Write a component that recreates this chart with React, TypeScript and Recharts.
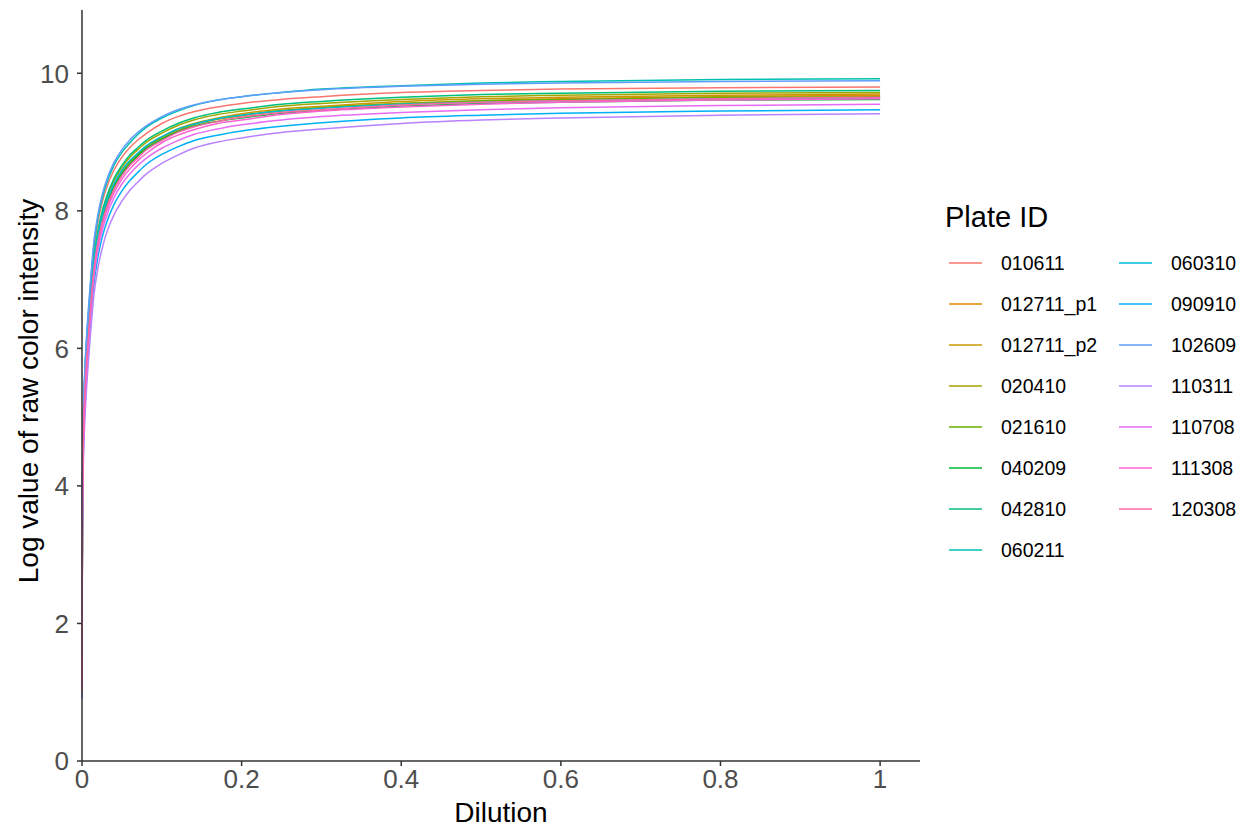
import React from 'react';
import { LineChart, Line, XAxis, YAxis, Legend } from 'recharts';

// dilution grid the curves were read at
const dilution = [0, 0.0005, 0.001, 0.002, 0.004, 0.007, 0.01, 0.015, 0.02, 0.025, 0.03, 0.04, 0.05, 0.06,
  0.07, 0.08, 0.1, 0.12, 0.14, 0.17, 0.2, 0.25, 0.3, 0.4, 0.5, 0.6, 0.8, 1];

// log colour intensity per plate
const p010611 = [1.0, 3.85, 4.49, 5.09, 5.69, 6.29, 6.77, 7.45, 7.84, 8.11, 8.31, 8.59, 8.78, 8.92, 9.03, 9.12, 9.27, 9.37, 9.44, 9.51, 9.56, 9.62, 9.66, 9.72, 9.75, 9.77, 9.79, 9.8];
const p012711_p1 = [1.0, 3.64, 4.26, 4.85, 5.44, 6.03, 6.51, 7.18, 7.57, 7.84, 8.04, 8.33, 8.53, 8.68, 8.8, 8.9, 9.05, 9.16, 9.25, 9.33, 9.38, 9.45, 9.5, 9.56, 9.6, 9.63, 9.66, 9.68];
const p012711_p2 = [1.0, 3.66, 4.29, 4.88, 5.47, 6.06, 6.54, 7.21, 7.6, 7.87, 8.07, 8.36, 8.56, 8.71, 8.82, 8.93, 9.07, 9.19, 9.27, 9.35, 9.41, 9.48, 9.52, 9.59, 9.63, 9.65, 9.68, 9.7];
const p020410 = [1.0, 3.72, 4.36, 4.95, 5.54, 6.14, 6.61, 7.29, 7.68, 7.95, 8.15, 8.44, 8.63, 8.78, 8.89, 8.99, 9.13, 9.24, 9.32, 9.4, 9.45, 9.52, 9.56, 9.62, 9.66, 9.68, 9.71, 9.72];
const p021610 = [1.0, 3.66, 4.3, 4.89, 5.48, 6.08, 6.55, 7.23, 7.62, 7.89, 8.09, 8.38, 8.57, 8.72, 8.83, 8.93, 9.07, 9.18, 9.26, 9.34, 9.39, 9.46, 9.5, 9.56, 9.6, 9.62, 9.65, 9.66];
const p040209 = [1.0, 3.63, 4.26, 4.86, 5.45, 6.05, 6.52, 7.2, 7.59, 7.86, 8.06, 8.35, 8.54, 8.68, 8.8, 8.9, 9.04, 9.15, 9.23, 9.3, 9.35, 9.42, 9.46, 9.52, 9.56, 9.58, 9.61, 9.62];
const p042810 = [1.0, 3.75, 4.39, 4.98, 5.57, 6.17, 6.64, 7.32, 7.71, 7.98, 8.18, 8.47, 8.66, 8.81, 8.92, 9.02, 9.16, 9.27, 9.35, 9.43, 9.48, 9.55, 9.59, 9.65, 9.69, 9.71, 9.74, 9.75];
const p060211 = [1.1, 3.93, 4.57, 5.16, 5.76, 6.36, 6.83, 7.51, 7.9, 8.17, 8.37, 8.66, 8.85, 8.99, 9.11, 9.21, 9.35, 9.45, 9.53, 9.61, 9.66, 9.72, 9.77, 9.82, 9.86, 9.88, 9.91, 9.92];
const p060310 = [1.0, 3.66, 4.31, 4.9, 5.5, 6.09, 6.57, 7.25, 7.64, 7.91, 8.11, 8.39, 8.59, 8.73, 8.84, 8.94, 9.08, 9.19, 9.26, 9.34, 9.39, 9.45, 9.49, 9.55, 9.58, 9.6, 9.63, 9.64];
const p090910 = [0.9, 3.41, 4.03, 4.62, 5.2, 5.79, 6.27, 6.94, 7.33, 7.6, 7.8, 8.09, 8.29, 8.44, 8.56, 8.67, 8.82, 8.93, 9.02, 9.1, 9.16, 9.23, 9.28, 9.35, 9.39, 9.42, 9.45, 9.47];
const p102609 = [1.0, 3.95, 4.6, 5.2, 5.8, 6.4, 6.88, 7.56, 7.95, 8.22, 8.42, 8.7, 8.89, 9.03, 9.14, 9.23, 9.37, 9.47, 9.54, 9.61, 9.66, 9.72, 9.76, 9.81, 9.84, 9.86, 9.88, 9.89];
const p110311 = [0.9, 3.29, 3.9, 4.47, 5.06, 5.64, 6.11, 6.78, 7.17, 7.44, 7.65, 7.94, 8.14, 8.3, 8.42, 8.53, 8.69, 8.81, 8.91, 9.0, 9.06, 9.14, 9.19, 9.27, 9.32, 9.35, 9.39, 9.41];
const p110708 = [1.0, 3.5, 4.13, 4.71, 5.3, 5.89, 6.37, 7.04, 7.43, 7.7, 7.9, 8.19, 8.39, 8.54, 8.66, 8.76, 8.91, 9.02, 9.11, 9.19, 9.25, 9.32, 9.37, 9.43, 9.47, 9.5, 9.53, 9.55];
const p111308 = [1.1, 3.58, 4.2, 4.78, 5.37, 5.96, 6.44, 7.11, 7.5, 7.77, 7.97, 8.26, 8.46, 8.61, 8.73, 8.83, 8.99, 9.1, 9.18, 9.27, 9.32, 9.4, 9.45, 9.51, 9.55, 9.58, 9.61, 9.63];
const p120308 = [1.0, 3.61, 4.24, 4.83, 5.42, 6.01, 6.49, 7.16, 7.55, 7.82, 8.02, 8.31, 8.51, 8.66, 8.77, 8.88, 9.02, 9.14, 9.22, 9.3, 9.36, 9.43, 9.47, 9.54, 9.58, 9.6, 9.63, 9.65];

const plateIds = ['010611', '012711_p1', '012711_p2', '020410', '021610', '040209', '042810', '060211',
  '060310', '090910', '102609', '110311', '110708', '111308', '120308'];
const plateValues = [p010611, p012711_p1, p012711_p2, p020410, p021610, p040209, p042810, p060211,
  p060310, p090910, p102609, p110311, p110708, p111308, p120308];
const plateColors = ['#F8766D', '#E58700', '#C99800', '#A3A500', '#6BB100', '#00BA38', '#00BF7D', '#00C0AF',
  '#00BCD8', '#00B0F6', '#619CFF', '#B983FF', '#E76BF3', '#FD61D1', '#FF67A4'];

const xTicks = [0, 0.2, 0.4, 0.6, 0.8, 1];
const yTicks = [0, 2, 4, 6, 8, 10];

const data = dilution.map((x, i) => {
  const row: any = { x };
  plateIds.forEach((id, k) => {
    row[id] = plateValues[k][i];
  });
  return row;
});

const FONT = '"Liberation Sans", Arial, sans-serif';

function YTitle() {
  return (
    <text x={38} y={391} transform="rotate(-90 38 391)" textAnchor="middle" fontSize={28} fill="#000" fontFamily={FONT}>
      Log value of raw color intensity
    </text>
  );
}

function XTitle() {
  return (
    <text x={501} y={822} textAnchor="middle" fontSize={28} fill="#000" fontFamily={FONT}>
      Dilution
    </text>
  );
}

function PlateLegend() {
  return (
    <svg width={300} height={380} style={{ fontFamily: FONT }}>
      <text x={5} y={37} fontSize={29} fill="#000">Plate ID</text>
      {plateIds.map((id, k) => {
        const col = k < 8 ? 0 : 1;
        const row = k < 8 ? k : k - 8;
        const cy = 73 + 41 * row;
        const lx = col === 0 ? 9 : 179;
        return (
          <g key={id}>
            <line x1={lx} x2={lx + 33} y1={cy} y2={cy} stroke={plateColors[k]} strokeWidth={1.6} />
            <text x={lx + 52} y={cy + 7} fontSize={19.5} fill="#000">{id}</text>
          </g>
        );
      })}
    </svg>
  );
}

export default function App() {
  return (
    <div style={{ position: 'absolute', left: 0, top: 0, background: '#fff' }}>
      <LineChart width={1247} height={828} data={data} margin={{ top: 10, right: 327, bottom: 0, left: 0 }}>
        <XAxis
          dataKey="x"
          type="number"
          domain={[0, 1.05]}
          ticks={xTicks}
          height={67}
          tickSize={5}
          tickMargin={4}
          stroke="#333"
          strokeWidth={1.5}
          tick={{ fill: '#4D4D4D', fontSize: 26, fontFamily: FONT }}
          label={<XTitle />}
        />
        <YAxis
          type="number"
          domain={[0, 10.92]}
          ticks={yTicks}
          width={82}
          tickSize={5}
          tickMargin={8}
          stroke="#333"
          strokeWidth={1.5}
          tick={{ fill: '#4D4D4D', fontSize: 26, fontFamily: FONT }}
          label={<YTitle />}
        />
        <Legend
          layout="vertical"
          align="center"
          verticalAlign="middle"
          wrapperStyle={{ left: 940, top: 190, width: 300, height: 380 }}
          content={() => <PlateLegend />}
        />
        {plateIds.map((id, k) => (
          <Line
            key={id}
            dataKey={id}
            type="monotone"
            stroke={plateColors[k]}
            strokeWidth={1.5}
            dot={false}
            isAnimationActive={false}
          />
        ))}
      </LineChart>
    </div>
  );
}
